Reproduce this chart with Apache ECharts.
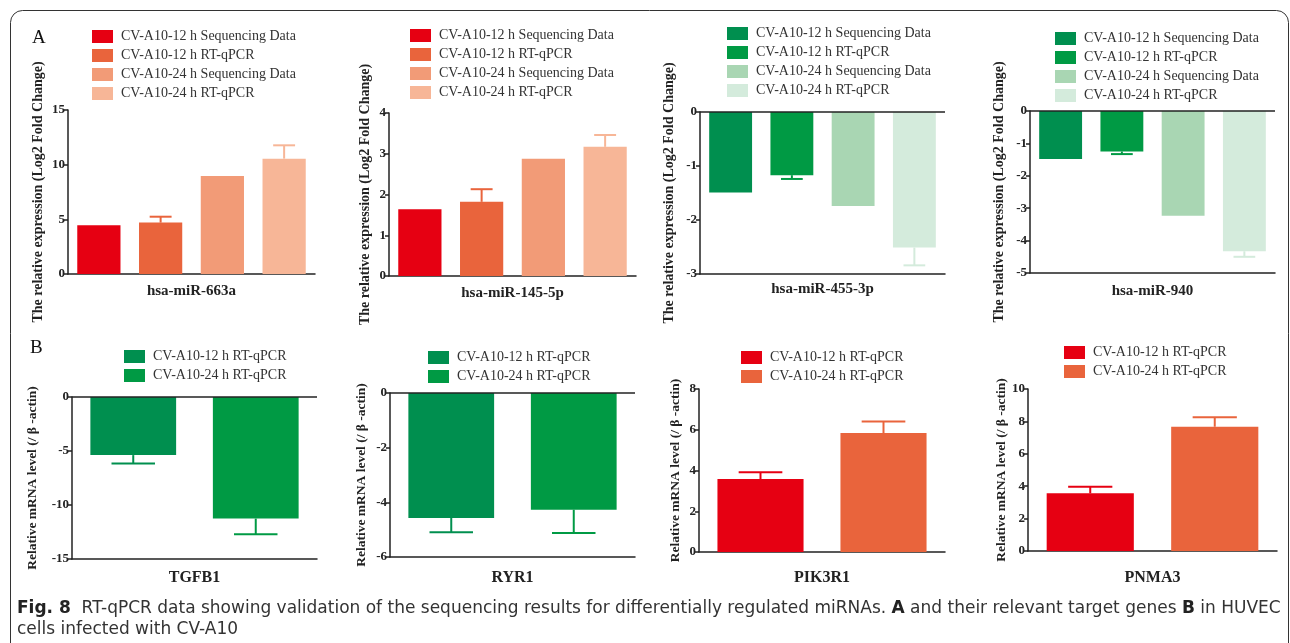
<!DOCTYPE html>
<html><head><meta charset="utf-8">
<script src="https://cdn.jsdelivr.net/npm/echarts@6/dist/echarts.min.js"></script>
<style>html,body{margin:0;padding:0;background:#fff}#c{width:1290px;height:643px}</style>
</head><body><div id="c"></div>
<script>
// ---------- data ----------
const groupsA = ['CV-A10-12 h Sequencing Data', 'CV-A10-12 h RT-qPCR', 'CV-A10-24 h Sequencing Data', 'CV-A10-24 h RT-qPCR'];
const groupsB = ['CV-A10-12 h RT-qPCR', 'CV-A10-24 h RT-qPCR'];
const genes = ['hsa-miR-663a', 'hsa-miR-145-5p', 'hsa-miR-455-3p', 'hsa-miR-940', 'TGFB1', 'RYR1', 'PIK3R1', 'PNMA3'];

const miR663a = [4.45, 4.70, 8.97, 10.55];
const miR663aErr = [0, 0.54, 0, 1.22];
const miR145 = [1.64, 1.82, 2.88, 3.17];
const miR145Err = [0, 0.31, 0, 0.29];
const miR455 = [-1.49, -1.17, -1.74, -2.51];
const miR455Err = [0, 0.07, 0, 0.33];
const miR940 = [-1.48, -1.25, -3.23, -4.33];
const miR940Err = [0, 0.08, 0, 0.17];
const TGFB1 = [-5.38, -11.26];
const TGFB1Err = [0.77, 1.44];
const RYR1 = [-4.57, -4.27];
const RYR1Err = [0.52, 0.85];
const PIK3R1 = [3.58, 5.84];
const PIK3R1Err = [0.33, 0.57];
const PNMA3 = [3.56, 7.67];
const PNMA3Err = [0.41, 0.58];

const yMin = [0, 0, -3, -5, -15, -6, 0, 0];
const yMax = [15, 4, 0, 0, 0, 0, 8, 10];
const yStep = [5, 1, 1, 1, 5, 2, 2, 2];

const yNameA = 'The relative expression (Log2 Fold Change)';
const yNameB = 'Relative mRNA level (/ β -actin)';

// ---------- styles / layout ----------
const redsA = ['#e60012', '#e9643c', '#f29b77', '#f7b697'];
const greensA = ['#008f4f', '#009a44', '#a9d6b3', '#d4ebdc'];
const redsB = ['#e60012', '#e9643c'];
const greensB = ['#008f4f', '#009a44'];

const panels = [
  {vals: miR663a, errs: miR663aErr, groups: groupsA, colors: redsA, yName: yNameA,
   grid: [68, 110, 247, 164], leg: [92, 29.5], nameGap: 10, yGap: 23, yFs: 14, gFs: 15},
  {vals: miR145, errs: miR145Err, groups: groupsA, colors: redsA, yName: yNameA,
   grid: [389, 113, 247, 163], leg: [410, 28.5], nameGap: 10, yGap: 17, yFs: 14, gFs: 15},
  {vals: miR455, errs: miR455Err, groups: groupsA, colors: greensA, yName: yNameA,
   grid: [700, 112, 245, 162], leg: [727, 26.5], nameGap: 8, yGap: 24, yFs: 14, gFs: 15},
  {vals: miR940, errs: miR940Err, groups: groupsA, colors: greensA, yName: yNameA,
   grid: [1030, 111, 245, 162], leg: [1055, 31.5], nameGap: 11, yGap: 24, yFs: 14, gFs: 15},
  {vals: TGFB1, errs: TGFB1Err, groups: groupsB, colors: greensB, yName: yNameB,
   grid: [72, 397, 245, 162], leg: [124, 349.5], nameGap: 11, yGap: 32, yFs: 13.5, gFs: 16},
  {vals: RYR1, errs: RYR1Err, groups: groupsB, colors: greensB, yName: yNameB,
   grid: [390, 393, 245, 164], leg: [428, 350.5], nameGap: 13, yGap: 21, yFs: 13.5, gFs: 16},
  {vals: PIK3R1, errs: PIK3R1Err, groups: groupsB, colors: redsB, yName: yNameB,
   grid: [699, 389, 246, 163], leg: [741, 350.5], nameGap: 18, yGap: 16, yFs: 13.5, gFs: 16},
  {vals: PNMA3, errs: PNMA3Err, groups: groupsB, colors: redsB, yName: yNameB,
   grid: [1028, 389, 249, 162], leg: [1064, 345.5], nameGap: 19, yGap: 19, yFs: 13.5, gFs: 16}
];

const SERIF = "'Liberation Serif', 'Times New Roman', serif";
const AX = '#222';

const grid = [], xAxis = [], yAxis = [], legend = [], series = [];

panels.forEach((p, k) => {
  grid.push({left: p.grid[0], top: p.grid[1], width: p.grid[2], height: p.grid[3], containLabel: false});
  const cats = p.groups.map((g, i) => g + '#' + k);
  xAxis.push({
    type: 'category', gridIndex: k, data: cats,
    axisLabel: {show: false}, axisTick: {show: false},
    axisLine: {onZero: false, lineStyle: {color: AX, width: 1.5}},
    name: genes[k], nameLocation: 'middle', nameGap: p.nameGap,
    nameTextStyle: {fontFamily: SERIF, fontWeight: 'bold', fontSize: p.gFs, color: AX}
  });
  yAxis.push({
    type: 'value', gridIndex: k, min: yMin[k], max: yMax[k], interval: yStep[k],
    splitLine: {show: false},
    axisLine: {show: true, lineStyle: {color: AX, width: 1.5}},
    axisTick: {show: true, length: 4, lineStyle: {color: AX, width: 1.5}},
    axisLabel: {fontFamily: SERIF, fontWeight: 'bold', fontSize: 13, color: AX, margin: 3},
    name: p.yName, nameLocation: 'middle', nameGap: p.yGap,
    nameTextStyle: {fontFamily: SERIF, fontWeight: 'bold', fontSize: p.yFs, color: AX}
  });
  legend.push({
    left: p.leg[0], top: p.leg[1], orient: 'vertical', padding: 0,
    itemWidth: 21, itemHeight: 13, itemGap: 5, icon: 'rect', selectedMode: false,
    data: cats, formatter: n => n.split('#')[0],
    textStyle: {fontFamily: SERIF, fontSize: 14, color: '#333', padding: [0, 0, 0, 3]}
  });
  p.groups.forEach((g, i) => {
    const s = {
      type: 'bar', name: cats[i], xAxisIndex: k, yAxisIndex: k, stack: 'st' + k,
      barWidth: '70%', silent: true,
      itemStyle: {color: p.colors[i]},
      data: p.vals.map((v, j) => (j === i ? v : '-'))
    };
    if (i === 0 && yMax[k] === 0) {
      s.markLine = {
        silent: true, symbol: ['none', 'none'], label: {show: false},
        lineStyle: {color: AX, width: 1.5, type: 'solid'},
        data: [{yAxis: 0}]
      };
    }
    series.push(s);
  });
  const errData = [], errColors = [];
  p.vals.forEach((v, i) => {
    if (p.errs[i] > 0) { errData.push([i, v, p.errs[i]]); errColors.push(p.colors[i]); }
  });
  series.push({
    type: 'custom', xAxisIndex: k, yAxisIndex: k, silent: true, z: 3,
    data: errData,
    renderItem: (params, api) => {
      const x = api.value(0), v = api.value(1), e = api.value(2);
      const sg = v >= 0 ? 1 : -1;
      const a = api.coord([x, v]);
      const b = api.coord([x, v + sg * e]);
      const cw = api.size([1, 0])[0] * 0.355 / 2;
      const col = errColors[params.dataIndex];
      return {type: 'group', children: [
        {type: 'line', shape: {x1: a[0], y1: a[1], x2: b[0], y2: b[1]}, style: {stroke: col, lineWidth: 2}},
        {type: 'line', shape: {x1: b[0] - cw, y1: b[1], x2: b[0] + cw, y2: b[1]}, style: {stroke: col, lineWidth: 2}}
      ]};
    }
  });
});

const CAP = "'DejaVu Sans', sans-serif";
const graphic = [
  {type: 'rect', silent: true, shape: {x: 10.5, y: 10.5, width: 1278, height: 700, r: 12},
   style: {fill: 'none', stroke: '#333', lineWidth: 1}},
  {type: 'text', left: 32, top: 29, style: {text: 'A', font: "19px 'Liberation Serif', serif", fill: '#111'}},
  {type: 'text', left: 30, top: 339, style: {text: 'B', font: "19px 'Liberation Serif', serif", fill: '#111'}},
  {type: 'text', left: 17, top: 600, style: {
    text: '{b|Fig. 8}  RT-qPCR data showing validation of the sequencing results for differentially regulated miRNAs. {b|A} and their relevant target genes {b|B} in HUVEC',
    fontFamily: CAP, fontSize: 17, fill: '#333',
    rich: {b: {fontFamily: CAP, fontSize: 17, fontWeight: 'bold', fill: '#222'}}
  }},
  {type: 'text', left: 17, top: 621, style: {text: 'cells infected with CV-A10', fontFamily: CAP, fontSize: 17, fill: '#333'}}
];

const chart = echarts.init(document.getElementById('c'), null, {renderer: 'canvas'});
chart.setOption({animation: false, grid, xAxis, yAxis, legend, series, graphic});
</script></body></html>
